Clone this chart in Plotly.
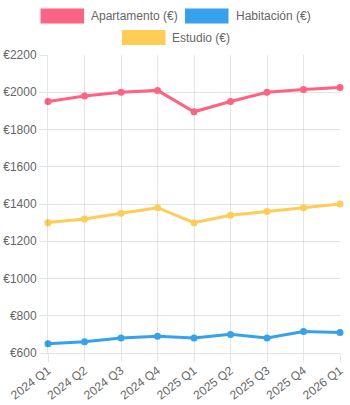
import plotly.graph_objects as go

categories = ["2024 Q1", "2024 Q2", "2024 Q3", "2024 Q4", "2025 Q1",
              "2025 Q2", "2025 Q3", "2025 Q4", "2026 Q1"]
apartamento = [1950, 1980, 2000, 2010, 1895, 1950, 2000, 2015, 2025]
habitacion = [650, 660, 680, 690, 680, 700, 680, 715, 710]
estudio = [1300, 1320, 1350, 1380, 1300, 1340, 1360, 1380, 1400]
series_names = ["Apartamento (€)", "Habitación (€)", "Estudio (€)"]
y_ticks = [600, 800, 1000, 1200, 1400, 1600, 1800, 2000, 2200]
y_tick_labels = ["€" + str(v) for v in y_ticks]

RED = "rgb(255,99,132)"
BLUE = "rgb(54,162,235)"
YELLOW = "rgb(255,205,86)"
GRID = "rgba(0,0,0,0.1)"
TXT = "#666666"
FONT = "Liberation Sans, Arial, Helvetica, sans-serif"

W, H = 350, 405
L, R, T, B = 48, 10, 55, 52
PW, PH = W - L - R, H - T - B

def px(x):
    return (x - L) / PW

def py(y):
    return (H - B - y) / PH

fig = go.Figure()
for name, vals, col in [(series_names[0], apartamento, RED),
                        (series_names[1], habitacion, BLUE),
                        (series_names[2], estudio, YELLOW)]:
    fig.add_trace(go.Scatter(
        x=categories, y=vals, name=name, mode="lines+markers",
        line=dict(color=col, width=3),
        marker=dict(color=col, size=7, line=dict(width=0)),
        showlegend=False, cliponaxis=False))

# Chart.js-style legend drawn manually
legend_items = [
    (series_names[0], RED, 40.5, 8.5, 89, 16),
    (series_names[1], BLUE, 185, 8.5, 234, 16),
    (series_names[2], YELLOW, 122, 30, 170, 37.5),
]
shapes = []
annotations = []
for name, col, bx, by, tx, ty in legend_items:
    shapes.append(dict(type="rect", xref="paper", yref="paper",
                       x0=px(bx), x1=px(bx + 43.5), y0=py(by), y1=py(by + 15),
                       fillcolor=col, line=dict(width=0), layer="above"))
    annotations.append(dict(xref="paper", yref="paper", x=px(tx), y=py(ty),
                            text=name, showarrow=False, xanchor="left",
                            yanchor="middle",
                            font=dict(family=FONT, size=12, color=TXT)))

fig.update_layout(
    width=W, height=H,
    margin=dict(l=L, r=R, t=T, b=B, pad=0),
    paper_bgcolor="white", plot_bgcolor="white",
    font=dict(family=FONT, size=12, color=TXT),
    shapes=shapes, annotations=annotations,
    xaxis=dict(
        type="category", range=[0, len(categories) - 1],
        showgrid=True, gridcolor=GRID, gridwidth=1,
        showline=True, linecolor=GRID, linewidth=1,
        ticks="outside", ticklen=8, tickcolor=GRID, tickwidth=1,
        tickangle=-37, ticklabelstandoff=-3,
        tickfont=dict(family=FONT, size=12, color=TXT),
        zeroline=False, fixedrange=True, automargin=False),
    yaxis=dict(
        range=[600, 2200], tickvals=y_ticks, ticktext=y_tick_labels,
        showgrid=True, gridcolor=GRID, gridwidth=1,
        showline=True, linecolor=GRID, linewidth=1, mirror=False,
        ticks="outside", ticklen=8, tickcolor=GRID, tickwidth=1,
        tickfont=dict(family=FONT, size=12, color=TXT),
        zeroline=False, fixedrange=True, automargin=False),
)

fig.write_html("out.html")
